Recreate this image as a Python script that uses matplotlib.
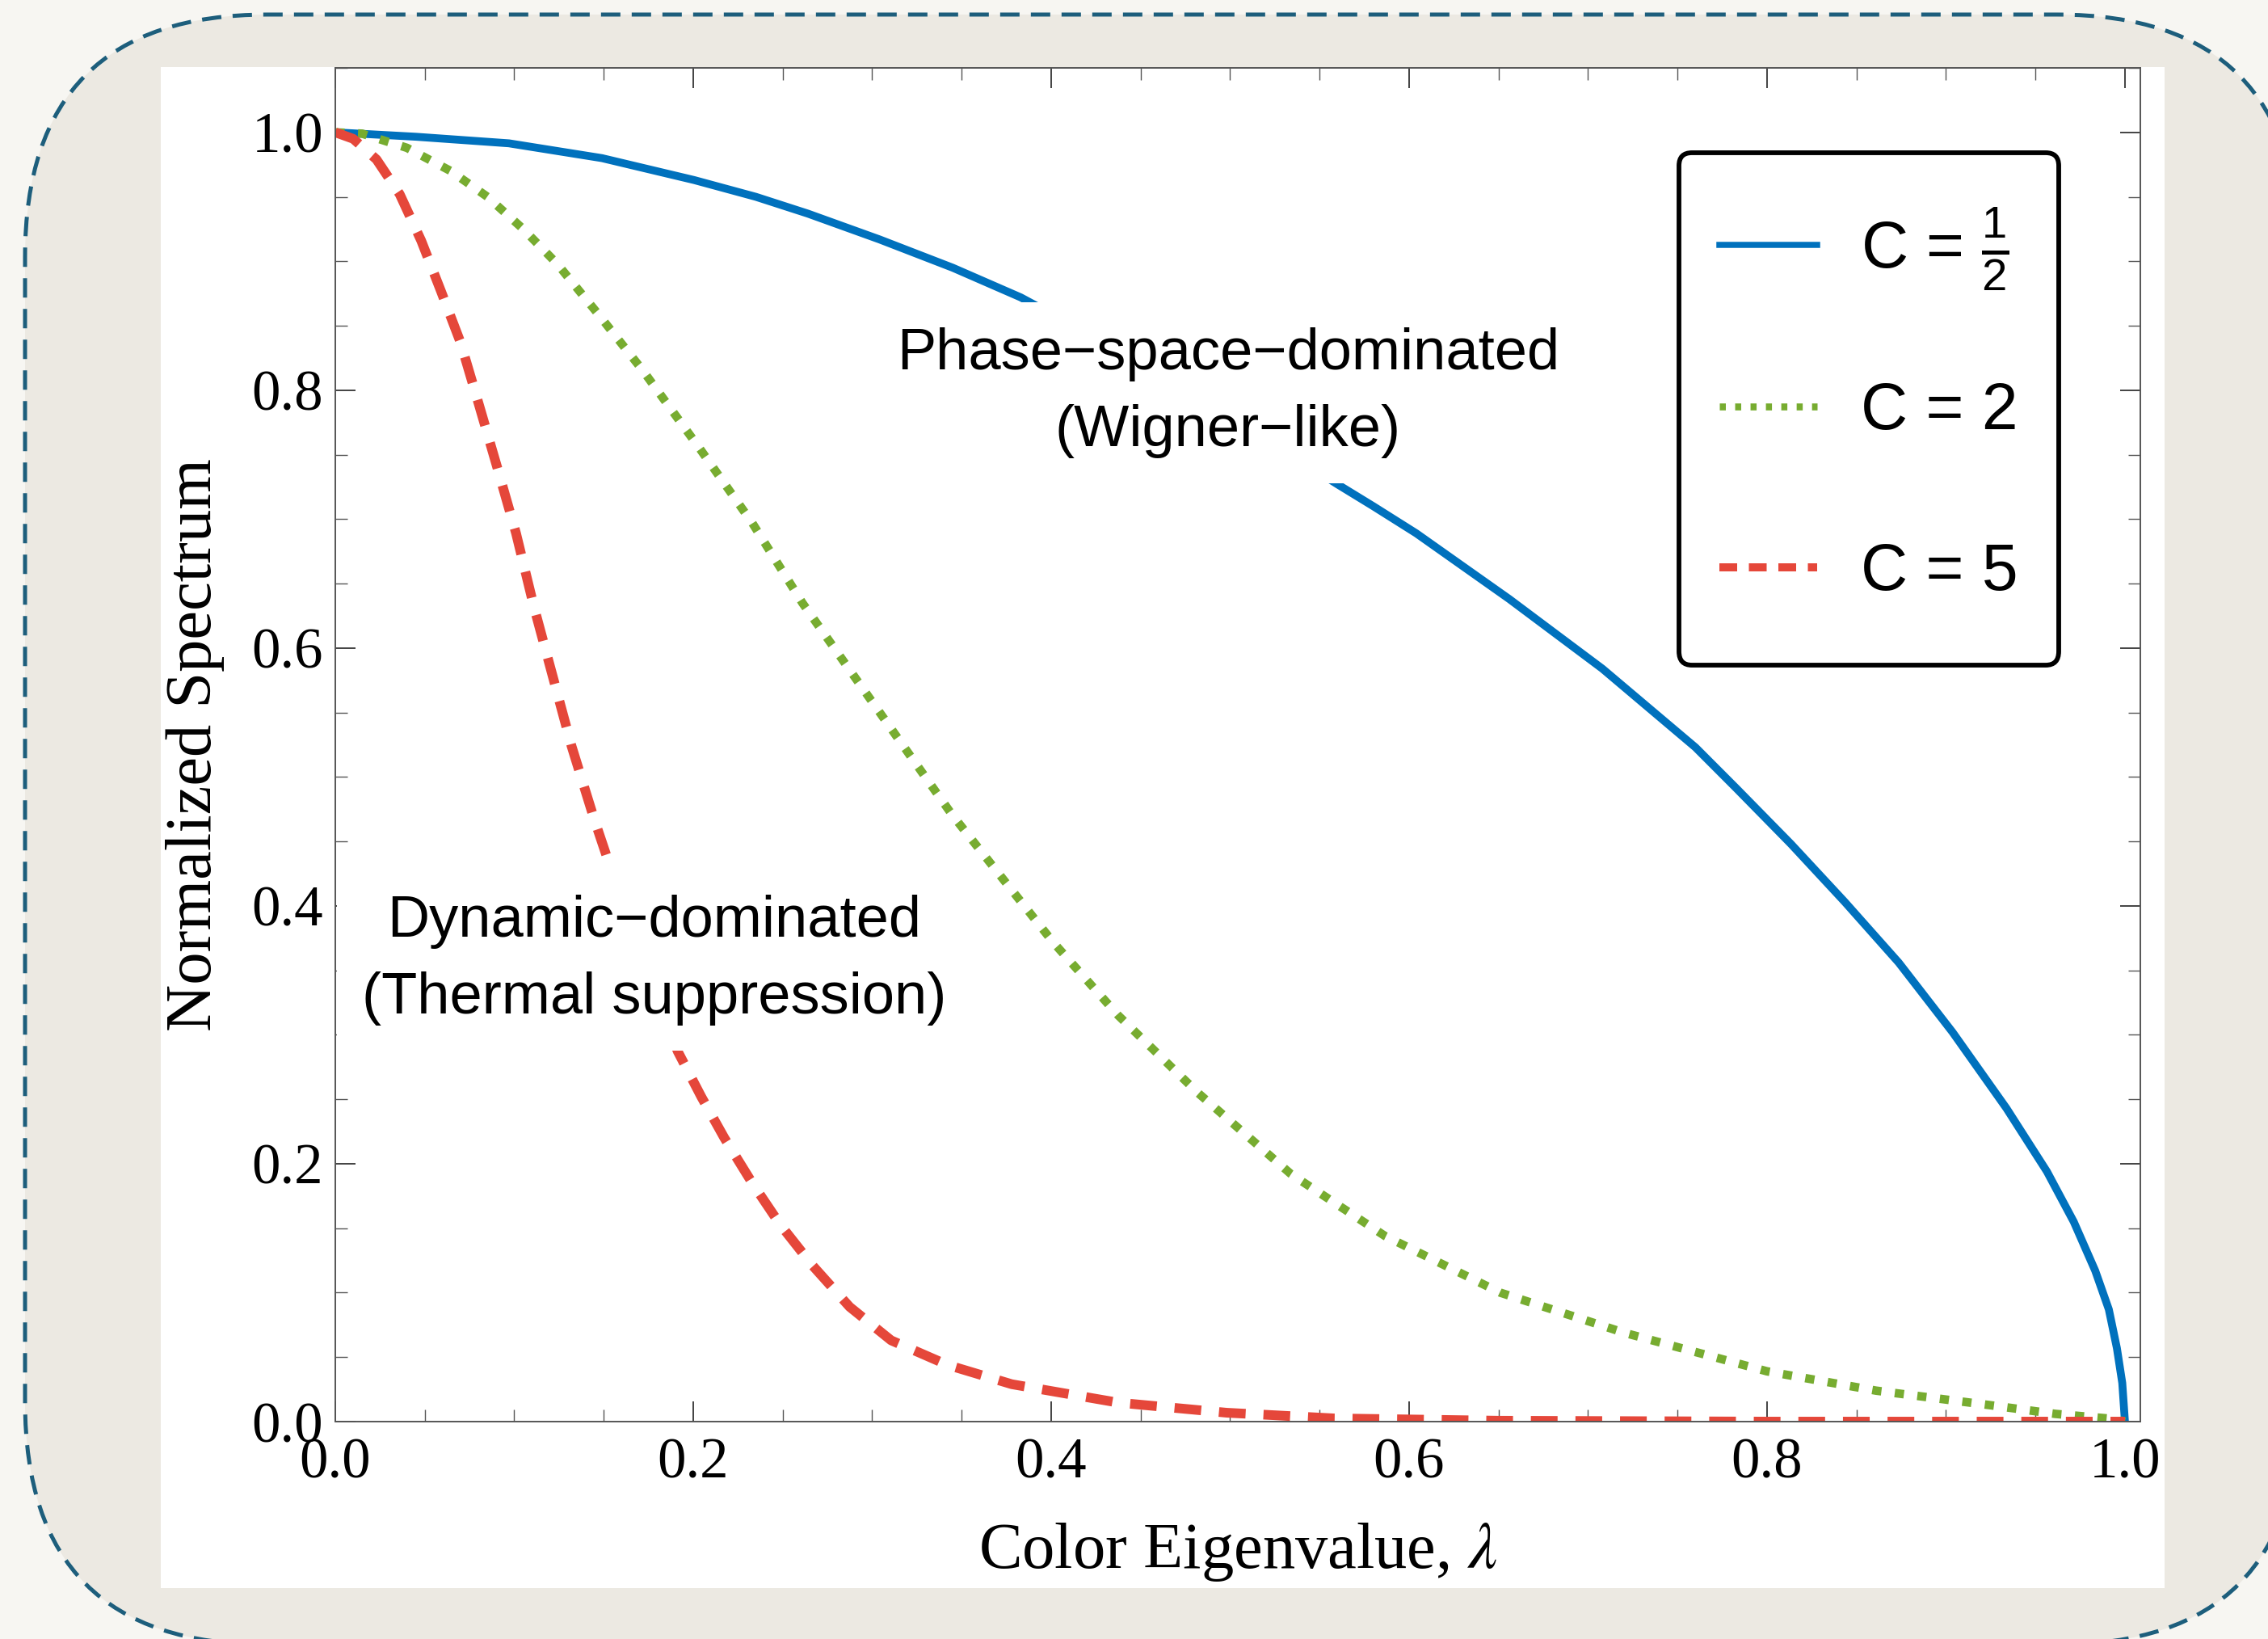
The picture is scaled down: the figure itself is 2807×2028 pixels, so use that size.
import matplotlib
matplotlib.use("Agg")
import numpy as np
import matplotlib.pyplot as plt
from matplotlib.patches import FancyBboxPatch, Rectangle
from matplotlib.transforms import IdentityTransform
from matplotlib.ticker import MultipleLocator, FormatStrFormatter

# values
lam_half = [0.0, 0.045, 0.097, 0.149, 0.2005, 0.235, 0.264, 0.304, 0.345, 0.383,
            0.43, 0.48, 0.52, 0.560, 0.580, 0.604, 0.656, 0.708, 0.760, 0.783,
            0.8134, 0.8435, 0.8736, 0.9037, 0.9338, 0.9564, 0.9714, 0.9834,
            0.991, 0.9955, 0.9985, 1.0]
spec_half = [1.0, 0.9966, 0.9915, 0.980, 0.963, 0.950, 0.937, 0.917, 0.895, 0.872,
             0.837, 0.797, 0.762, 0.727, 0.710, 0.689, 0.638, 0.584, 0.523, 0.491,
             0.448, 0.403, 0.356, 0.302, 0.243, 0.194, 0.155, 0.117,
             0.087, 0.057, 0.030, 0.0]

lam_two = [0.0, 0.015, 0.040, 0.0645, 0.085, 0.105, 0.124, 0.1475, 0.172, 0.203,
           0.233, 0.261, 0.291, 0.321, 0.3445, 0.377, 0.401, 0.4375, 0.482, 0.534,
           0.5865, 0.651, 0.72, 0.80, 0.861, 0.926, 0.961, 0.994, 1.0]
spec_two = [1.0, 0.999, 0.988, 0.970, 0.950, 0.925, 0.898, 0.858, 0.815, 0.756,
            0.697, 0.635, 0.576, 0.517, 0.471, 0.414, 0.372, 0.315, 0.255, 0.192,
            0.144, 0.100, 0.069, 0.039, 0.024, 0.0125, 0.006, 0.002, 0.0]

lam_five = [0.0, 0.010, 0.023, 0.036, 0.048, 0.059, 0.070, 0.080, 0.0905, 0.101,
            0.111, 0.1215, 0.132, 0.1445, 0.1526, 0.165, 0.178, 0.1914, 0.2045,
            0.2174, 0.233, 0.2485, 0.2667, 0.2874, 0.3106, 0.342, 0.378, 0.4375,
            0.498, 0.558, 0.65, 0.8, 1.0]
spec_five = [1.0, 0.995, 0.979, 0.952, 0.916, 0.877, 0.837, 0.790, 0.740, 0.689,
             0.632, 0.578, 0.524, 0.468, 0.4345, 0.382, 0.332, 0.287, 0.252,
             0.220, 0.185, 0.153, 0.121, 0.089, 0.063, 0.044, 0.029, 0.0147,
             0.0069, 0.0025, 0.0007, 0.0, 0.0]

labels = ["C = $\\frac{1}{2}$", "C = 2", "C = 5"]
colors = ["#0071bd", "#77ac30", "#e5473a"]

plt.rcParams['font.family'] = 'Liberation Serif'
plt.rcParams['mathtext.fontset'] = 'custom'
plt.rcParams['mathtext.rm'] = 'Liberation Sans'
plt.rcParams['mathtext.it'] = 'Liberation Sans:italic'
plt.rcParams['mathtext.bf'] = 'Liberation Sans:bold'

W, H, DPI = 2807, 2028, 200
fig = plt.figure(figsize=(W / DPI, H / DPI), dpi=DPI, facecolor='#f7f6f2')

# rounded card behind everything (pixel coords, runs off the right/bottom edge)
card = FancyBboxPatch((31, -7), 2815, 2017, boxstyle="round,pad=0,rounding_size=300",
                      transform=IdentityTransform(), facecolor='#ece9e2',
                      edgecolor='#1d5e7c', lw=1.8, linestyle=(0, (4.8, 2.8)), zorder=-2)
fig.add_artist(card)
panel = Rectangle((199, 63), 2480, 1882, transform=IdentityTransform(),
                  facecolor='white', edgecolor='none', zorder=-1)
fig.add_artist(panel)

ax = fig.add_axes([0.14784, 0.13264, 0.79587, 0.82594])

ax.plot(lam_half, spec_half, color=colors[0], lw=3.5, label=labels[0])
ax.plot(lam_two, spec_two, color=colors[1], lw=3.8, label=labels[1],
        linestyle=(0, (1.08, 1.58)), dash_capstyle='butt')
ax.plot(lam_five, spec_five, color=colors[2], lw=4.3, label=labels[2],
        linestyle=(0, (2.77, 1.85)), dash_capstyle='butt')

ax.set_xlim(0, 1.0086)
ax.set_ylim(0, 1.05)

ax.xaxis.set_major_locator(MultipleLocator(0.2))
ax.xaxis.set_minor_locator(MultipleLocator(0.05))
ax.yaxis.set_major_locator(MultipleLocator(0.2))
ax.yaxis.set_minor_locator(MultipleLocator(0.05))
ax.xaxis.set_major_formatter(FormatStrFormatter('%.1f'))
ax.yaxis.set_major_formatter(FormatStrFormatter('%.1f'))

ax.tick_params(which='both', direction='in', top=True, right=True, labelsize=25.5)
ax.tick_params(which='major', length=9, width=0.6, color='#222222')
ax.tick_params(which='minor', length=5.4, width=0.5, color='#555555')
ax.tick_params(axis='x', pad=7)
ax.tick_params(axis='y', pad=5.4)
for s in ax.spines.values():
    s.set_color('#555555')
    s.set_linewidth(0.7)

ax.set_xlabel("Color Eigenvalue, $\\lambda$", fontsize=29, math_fontfamily='stix', labelpad=14)
ax.set_ylabel("Normalized Spectrum", fontsize=29, labelpad=12)

box = dict(facecolor='white', edgecolor='none', pad=11)
ax.text(0.4988, 0.798, "Phase\u2212space\u2212dominated\n(Wigner\u2212like)", ha='center',
        va='center', fontsize=26, family='Liberation Sans', linespacing=1.55,
        bbox=box, zorder=4)
ax.text(0.178, 0.358, "Dynamic\u2212dominated\n(Thermal suppression)", ha='center',
        va='center', fontsize=26, family='Liberation Sans', linespacing=1.55,
        bbox=box, zorder=4)

leg = ax.legend(loc='upper right', bbox_to_anchor=(0.9548, 0.9373), borderaxespad=0,
                prop={'family': 'Liberation Sans', 'size': 29}, handlelength=1.5,
                handleheight=2.2, handletextpad=0.68, borderpad=0.62, labelspacing=0.8,
                fancybox=True, framealpha=1, edgecolor='black')
leg.get_frame().set_linewidth(2.1)
leg.set_zorder(5)
hl = leg.get_lines()
hl[0].set_linewidth(2.7)
hl[1].set_linewidth(3.1)
hl[1].set_linestyle((0, (0.87, 1.34)))
hl[2].set_linewidth(3.6)
hl[2].set_linestyle((0, (2.2, 1.45)))
# sit the handle samples level with the label text
for l in hl:
    l.set_ydata(np.asarray(l.get_ydata()) - 6.5)

fig.savefig('out.png', dpi=DPI, facecolor=fig.get_facecolor())
